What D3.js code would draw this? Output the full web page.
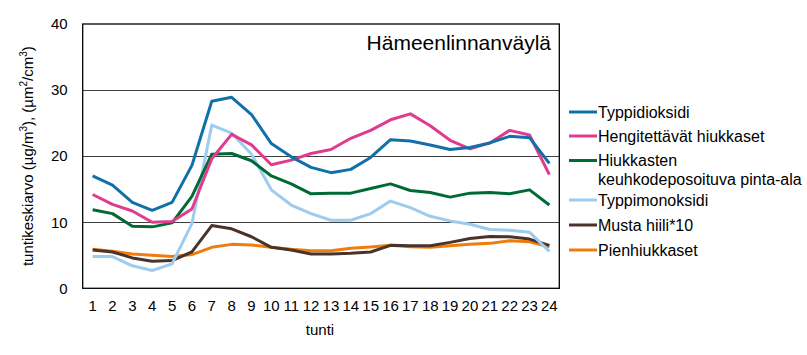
<!DOCTYPE html>
<html><head><meta charset="utf-8">
<script src="https://cdn.jsdelivr.net/npm/d3@7"></script>
<style>body{margin:0;background:#fff;} svg{display:block;font-family:"Liberation Sans",Arial,sans-serif;}</style>
</head><body>
<script>
const hours = ["1","2","3","4","5","6","7","8","9","10","11","12","13","14","15","16","17","18","19","20","21","22","23","24"];
const typpidioksidi = [17.0,15.6,13.0,11.8,13.0,18.6,28.3,28.9,26.3,21.9,19.9,18.3,17.5,18.0,19.8,22.5,22.3,21.7,21.0,21.3,22.0,23.0,22.8,18.9];
const hengitettavat = [14.2,12.7,11.7,10.0,10.1,12.0,19.6,23.3,21.7,18.7,19.4,20.4,21.0,22.7,23.9,25.5,26.4,24.6,22.4,21.1,22.0,23.9,23.2,17.2];
const keuhkopinta = [11.9,11.3,9.4,9.3,9.9,13.9,20.3,20.4,19.3,17.0,15.8,14.3,14.4,14.4,15.1,15.8,14.8,14.5,13.8,14.4,14.5,14.3,14.9,12.6];
const typpimonoksidi = [4.8,4.8,3.4,2.7,3.7,9.8,24.7,23.5,20.3,14.9,12.6,11.3,10.3,10.3,11.3,13.2,12.2,10.9,10.2,9.7,8.9,8.8,8.5,5.6];
const mustaHiili = [5.8,5.5,4.6,4.1,4.2,5.5,9.5,9.0,7.8,6.2,5.8,5.2,5.2,5.3,5.5,6.5,6.45,6.45,6.95,7.55,7.85,7.8,7.45,6.5];
const pienhiukkaset = [5.9,5.6,5.2,5.0,4.8,5.1,6.2,6.65,6.55,6.2,5.9,5.7,5.7,6.05,6.25,6.5,6.3,6.2,6.45,6.65,6.8,7.2,7.05,6.3];
const yTicks = [0,10,20,30,40];
const seriesNames = ["Typpidioksidi","Hengitettävät hiukkaset","Hiukkasten\nkeuhkodeposoituva pinta-ala","Typpimonoksidi","Musta hiili*10","Pienhiukkaset"];
const seriesColors = ["#1170AA","#E03C8E","#006A35","#9DCCEE","#4A3328","#F07D0B"];
const seriesData = [typpidioksidi,hengitettavat,keuhkopinta,typpimonoksidi,mustaHiili,pienhiukkaset];
const drawOrder = [5,4,3,2,1,0];

const W=807,H=355;
const m={left:82.7,right:807-559.3,top:24,bottom:355-288.3};
const svg=d3.select("body").append("svg").attr("width",W).attr("height",H);
const x=d3.scaleBand().domain(hours).range([m.left,W-m.right]);
const y=d3.scaleLinear().domain([0,40]).range([H-m.bottom,m.top]);

// gridlines
svg.append("g").selectAll("line").data(yTicks.filter(d=>d>0&&d<40)).join("line")
  .attr("x1",m.left).attr("x2",W-m.right).attr("y1",d=>y(d)).attr("y2",d=>y(d))
  .attr("stroke","#404040").attr("stroke-width",1).attr("shape-rendering","crispEdges");

// frame
svg.append("rect").attr("x",m.left).attr("y",m.top).attr("width",W-m.right-m.left).attr("height",H-m.bottom-m.top)
  .attr("fill","none").attr("stroke","#000").attr("stroke-width",1.3);

// y axis
const yAxis=svg.append("g").attr("transform",`translate(${m.left},0)`).call(d3.axisLeft(y).tickValues(yTicks).tickSize(0).tickPadding(15));
yAxis.select(".domain").remove();
yAxis.selectAll("text").attr("font-size",15).attr("fill","#000").attr("font-family","Liberation Sans, Arial, sans-serif");

// x axis
const xAxis=svg.append("g").attr("transform",`translate(0,${H-m.bottom})`).call(d3.axisBottom(x).tickSize(0).tickPadding(12));
xAxis.select(".domain").remove();
xAxis.selectAll("text").attr("font-size",15).attr("fill","#000").attr("font-family","Liberation Sans, Arial, sans-serif");

// axis titles
svg.append("text").attr("x",(m.left+W-m.right)/2 - 1).attr("y",335).attr("text-anchor","middle").attr("font-size",15).text("tunti");
const yt=svg.append("text").attr("transform",`translate(33,${(m.top+H-m.bottom)/2}) rotate(-90)`).attr("text-anchor","middle").attr("font-size",15);
yt.append("tspan").text("tuntikeskiarvo (µg/m");
yt.append("tspan").attr("font-size",10).attr("dy",-6).text("3");
yt.append("tspan").attr("dy",6).text("), (µm");
yt.append("tspan").attr("font-size",10).attr("dy",-6).text("2");
yt.append("tspan").attr("dy",6).text("/cm");
yt.append("tspan").attr("font-size",10).attr("dy",-6).text("3");
yt.append("tspan").attr("dy",6).text(")");

// title inside plot
svg.append("text").attr("x",551).attr("y",50).attr("text-anchor","end").attr("font-size",21).text("Hämeenlinnanväylä");

// lines
const line=d3.line().x((d,i)=>x(hours[i])+x.bandwidth()/2).y(d=>y(d));
svg.append("g").selectAll("path").data(drawOrder).join("path")
  .attr("d",k=>line(seriesData[k])).attr("fill","none").attr("stroke",k=>seriesColors[k])
  .attr("stroke-width",3).attr("stroke-linejoin","round");

// legend
const legY=[112,136,160.5,200,225,250];
const lg=svg.append("g").selectAll("g").data(seriesNames).join("g");
lg.append("line").attr("x1",569).attr("x2",597).attr("y1",(d,i)=>legY[i]).attr("y2",(d,i)=>legY[i])
  .attr("stroke",(d,i)=>seriesColors[i]).attr("stroke-width",3);
lg.each(function(d,i){
  const t=d3.select(this).append("text").attr("x",598).attr("y",legY[i]+5.5).attr("font-size",16);
  d.split("\n").forEach((s,j)=>t.append("tspan").attr("x",598).attr("dy",j?19:0).text(s));
});
</script>
</body></html>
